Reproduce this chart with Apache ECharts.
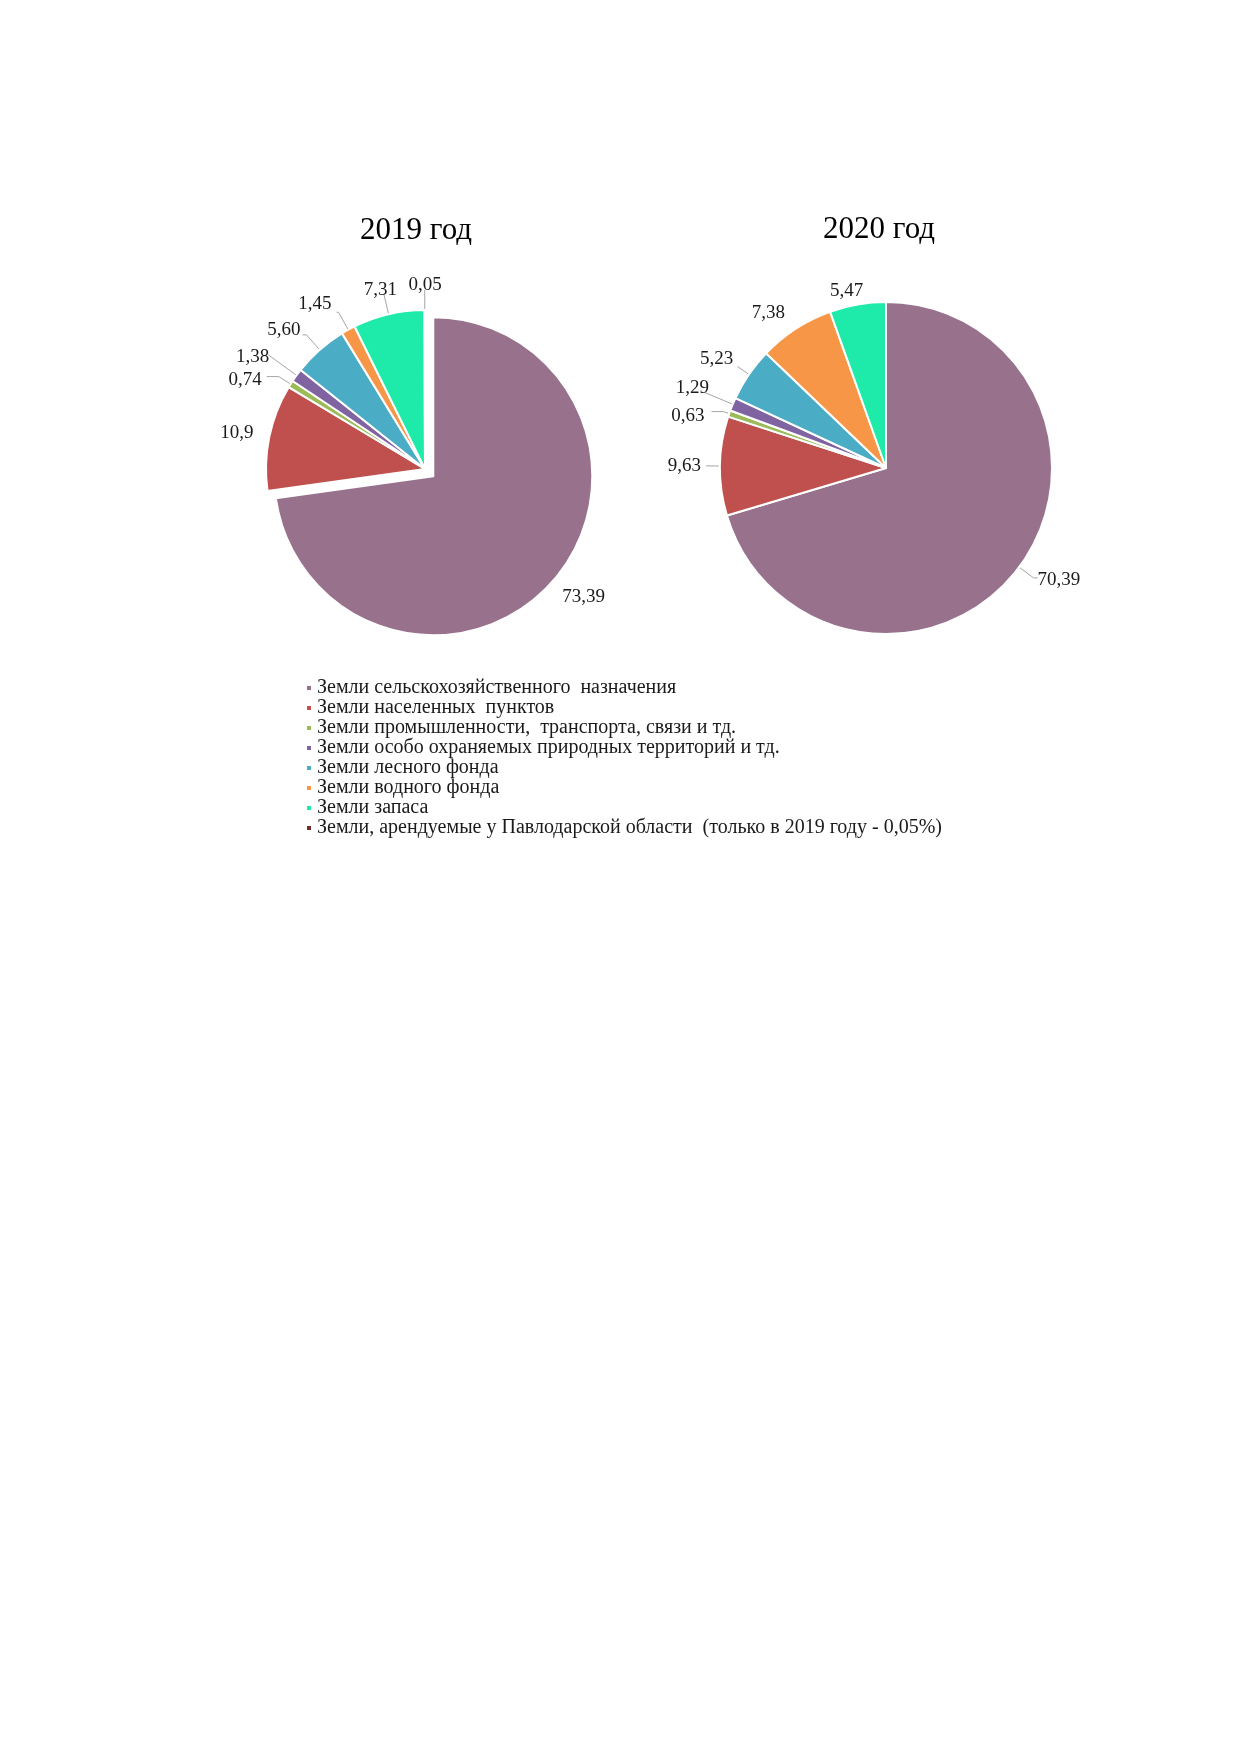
<!DOCTYPE html>
<html>
<head>
<meta charset="utf-8">
<script src="https://cdn.jsdelivr.net/npm/echarts@6/dist/echarts.min.js"></script>
<style>
  html, body { margin: 0; padding: 0; background: #fff; }
  #chart { width: 1240px; height: 1754px; }
</style>
</head>
<body>
<div id="chart"></div>
<script>
// categories (legend order)
var categories = [
  'Земли сельскохозяйственного  назначения',
  'Земли населенных  пунктов',
  'Земли промышленности,  транспорта, связи и тд.',
  'Земли особо охраняемых природных территорий и тд.',
  'Земли лесного фонда',
  'Земли водного фонда',
  'Земли запаса',
  'Земли, арендуемые у Павлодарской области  (только в 2019 году - 0,05%)'
];
var colors = ['#98728c', '#c0504d', '#9bbb59', '#8064a2', '#4bacc6', '#f79646', '#1eeaaa', '#772c2a'];

// values, %
var values2019 = [73.39, 10.9, 0.74, 1.38, 5.60, 1.45, 7.31, 0.05];
var labels2019 = ['73,39', '10,9', '0,74', '1,38', '5,60', '1,45', '7,31', '0,05'];
var values2020 = [70.39, 9.63, 0.63, 1.29, 5.23, 7.38, 5.47];
var labels2020 = ['70,39', '9,63', '0,63', '1,29', '5,23', '7,38', '5,47'];

var titles = ['2019 год', '2020 год'];

var FONT = '"Liberation Serif", "Times New Roman", serif';

// leader line per slice: [length, length2, show line]
var lines2019 = [[20, 0, false], [10, 4, false], [14, 12, true], [35, 0, true],
                 [20, 4, true], [20, 2, true], [20, 0, true], [20, 0, true]];
var lines2020 = [[18, 4, true], [14, 0, true], [6, 12, true], [30, 0, true],
                 [14, 0, true], [14, 0, false], [14, 0, false]];
// small label nudges (dx, dy) by slice index
var nudge2019 = { 0: [-11, 3], 1: [3, -2], 2: [0, 3], 3: [6, 2], 4: [3, -5], 5: [0, -8], 6: [18, -5], 7: [22, -5] };
var nudge2020 = { 0: [-5, 2], 2: [-2, 4], 3: [9, -5], 4: [1, -7], 5: [2, -4], 6: [13, 0] };

function buildData(values, labels, lines, selectedIdx) {
  var out = [];
  for (var i = 0; i < values.length; i++) {
    out.push({
      name: categories[i],
      value: values[i],
      labelText: labels[i],
      selected: i === selectedIdx,
      itemStyle: { color: colors[i] },
      labelLine: {
        length: lines[i][0],
        length2: lines[i][1],
        lineStyle: { opacity: lines[i][2] ? 1 : 0 }
      }
    });
  }
  return out;
}

function pieSeries(center, radius, data, offset, nudge) {
  return {
    type: 'pie',
    center: center,
    radius: radius,
    startAngle: 90,
    clockwise: true,
    selectedMode: 'single',
    selectedOffset: offset,
    animation: false,
    avoidLabelOverlap: false,
    itemStyle: { borderColor: '#fff', borderWidth: 2 },
    label: {
      show: true,
      position: 'outside',
      fontFamily: FONT,
      fontSize: 19,
      color: '#1a1a1a',
      formatter: function (p) { return p.data.labelText; }
    },
    labelLine: {
      show: true,
      lineStyle: { color: '#a6a6a6', width: 1 }
    },
    labelLayout: function (params) {
      var n = nudge[params.dataIndex];
      return n ? { dx: n[0], dy: n[1] } : {};
    },
    emphasis: { disabled: true },
    data: data
  };
}

var chart = echarts.init(document.getElementById('chart'), null, { renderer: 'canvas' });

var option = {
  backgroundColor: '#fff',
  title: [
    {
      text: titles[0], left: 411, top: 210, textAlign: 'center',
      textStyle: { fontFamily: FONT, fontSize: 31, fontWeight: 'normal', color: '#000' }
    },
    {
      text: titles[1], left: 874, top: 209, textAlign: 'center',
      textStyle: { fontFamily: FONT, fontSize: 31, fontWeight: 'normal', color: '#000' }
    }
  ],
  legend: {
    orient: 'vertical',
    left: 300,
    top: 673,
    icon: 'rect',
    itemWidth: 6,
    itemHeight: 6,
    itemGap: 0,
    selectedMode: false,
    data: categories,
    textStyle: { fontFamily: FONT, fontSize: 20, lineHeight: 19.2, color: '#1a1a1a' }
  },
  series: [
    pieSeries([425, 469], 159, buildData(values2019, labels2019, lines2019, 0), 11, nudge2019),
    pieSeries([886, 468], 166, buildData(values2020, labels2020, lines2020, -1), 0, nudge2020)
  ]
};

chart.setOption(option);
</script>
</body>
</html>
